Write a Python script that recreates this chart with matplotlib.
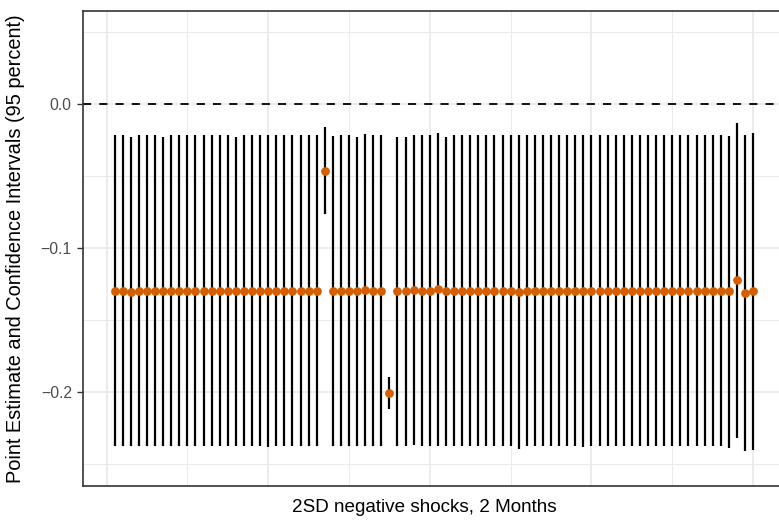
import matplotlib
matplotlib.use("Agg")
import matplotlib.pyplot as plt
import numpy as np

plt.rcParams['font.family'] = ['Liberation Sans', 'DejaVu Sans']

# Point estimates and 95% confidence bounds for each shock specification
spec = list(range(1, 81))
estimate = [
    -0.1297, -0.1297, -0.1304, -0.1297, -0.1297, -0.1297, -0.1297, -0.1297, -0.1297, -0.1297,
    -0.1297, -0.1297, -0.1297, -0.1297, -0.1297, -0.1297, -0.1297, -0.1297, -0.1297, -0.1297,
    -0.1297, -0.1297, -0.1297, -0.1297, -0.1297, -0.1297, -0.0461, -0.1297, -0.1297, -0.1297,
    -0.1297, -0.1288, -0.1297, -0.1297, -0.2007, -0.1298, -0.1297, -0.1287, -0.1297, -0.1297,
    -0.1285, -0.1297, -0.1297, -0.1297, -0.1297, -0.1297, -0.1297, -0.1297, -0.1297, -0.1297,
    -0.1304, -0.1297, -0.1297, -0.1297, -0.1297, -0.1297, -0.1297, -0.1297, -0.1297, -0.1297,
    -0.1297, -0.1297, -0.1297, -0.1297, -0.1297, -0.1297, -0.1297, -0.1297, -0.1297, -0.1297,
    -0.1297, -0.1297, -0.1297, -0.1297, -0.1297, -0.1297, -0.1297, -0.1220, -0.1308, -0.1299,
]
upper = [
    -0.0215, -0.0215, -0.0229, -0.0215, -0.0215, -0.0215, -0.0225, -0.0215, -0.0215, -0.0215,
    -0.0215, -0.0215, -0.0215, -0.0215, -0.0215, -0.0225, -0.0215, -0.0215, -0.0215, -0.0215,
    -0.0215, -0.0215, -0.0215, -0.0215, -0.0215, -0.0215, -0.0160, -0.0222, -0.0215, -0.0215,
    -0.0225, -0.0208, -0.0215, -0.0215, -0.1890, -0.0225, -0.0225, -0.0215, -0.0215, -0.0215,
    -0.0197, -0.0230, -0.0215, -0.0215, -0.0215, -0.0215, -0.0215, -0.0215, -0.0215, -0.0215,
    -0.0215, -0.0215, -0.0215, -0.0215, -0.0215, -0.0215, -0.0215, -0.0215, -0.0215, -0.0215,
    -0.0215, -0.0215, -0.0215, -0.0215, -0.0215, -0.0215, -0.0215, -0.0215, -0.0215, -0.0215,
    -0.0215, -0.0215, -0.0215, -0.0215, -0.0215, -0.0215, -0.0222, -0.0128, -0.0211, -0.0197,
]
lower = [
    -0.2373, -0.2373, -0.2373, -0.2373, -0.2373, -0.2373, -0.2373, -0.2373, -0.2373, -0.2373,
    -0.2373, -0.2373, -0.2373, -0.2373, -0.2373, -0.2373, -0.2373, -0.2373, -0.2373, -0.2378,
    -0.2373, -0.2373, -0.2373, -0.2373, -0.2373, -0.2373, -0.0764, -0.2373, -0.2373, -0.2373,
    -0.2373, -0.2373, -0.2373, -0.2373, -0.2118, -0.2373, -0.2373, -0.2365, -0.2373, -0.2373,
    -0.2373, -0.2373, -0.2373, -0.2373, -0.2373, -0.2373, -0.2373, -0.2373, -0.2373, -0.2373,
    -0.2393, -0.2373, -0.2373, -0.2373, -0.2373, -0.2373, -0.2373, -0.2373, -0.2380, -0.2373,
    -0.2373, -0.2373, -0.2373, -0.2373, -0.2373, -0.2373, -0.2373, -0.2373, -0.2373, -0.2373,
    -0.2373, -0.2373, -0.2373, -0.2373, -0.2373, -0.2373, -0.2385, -0.2320, -0.2405, -0.2400,
]
y_ticks = [-0.2, -0.1, 0.0]
y_tick_labels = ["\u22120.2", "\u22120.1", "0.0"]

W, H = 779, 524
fig = plt.figure(figsize=(W / 100, H / 100), dpi=100)
left, right, top, bottom = 82.7, 785.0, 10.7, 486.0
ax = fig.add_axes([left / W, 1 - bottom / H, (right - left) / W, (bottom - top) / H])

grid_col = "#EBEBEB"
# grid: minor + major lines
for yv in [0.05, -0.05, -0.15, -0.25]:
    ax.axhline(yv, color=grid_col, lw=0.7, zorder=0)
for yv in y_ticks:
    ax.axhline(yv, color=grid_col, lw=1.3, zorder=0)
for xv in [10, 30, 50, 70]:
    ax.axvline(xv, color=grid_col, lw=0.7, zorder=0)
for xv in [0, 20, 40, 60, 80]:
    ax.axvline(xv, color=grid_col, lw=1.3, zorder=0)

ax.axhline(0, color="black", lw=1.3, dashes=(4.5, 4.5), zorder=1)

ax.vlines(spec, lower, upper, color="black", lw=1.6, zorder=2)
ax.plot(spec, estimate, "o", color="#D55E00", ms=6.3, mew=0, zorder=3)

ax.set_xlim(-2.95, 83.95)
ax.set_ylim(-0.265, 0.065)
ax.set_xticks([])
ax.set_yticks(y_ticks)
ax.set_yticklabels(y_tick_labels)
ax.tick_params(axis="y", length=4.3, width=1.0, color="#333333",
               labelcolor="#4D4D4D", labelsize=11.3, pad=3.5)
for s in ax.spines.values():
    s.set_color("#333333")
    s.set_linewidth(1.2)

fig.text(16 / W, 1 - 249 / H, "Point Estimate and Confidence Intervals (95 percent)",
         rotation=90, ha="center", va="center", fontsize=14.4, color="black")
fig.text(424 / W, 1 - 507 / H, "2SD negative shocks, 2 Months",
         ha="center", va="center", fontsize=13.6, color="black")

fig.savefig("out.png", dpi=100)
